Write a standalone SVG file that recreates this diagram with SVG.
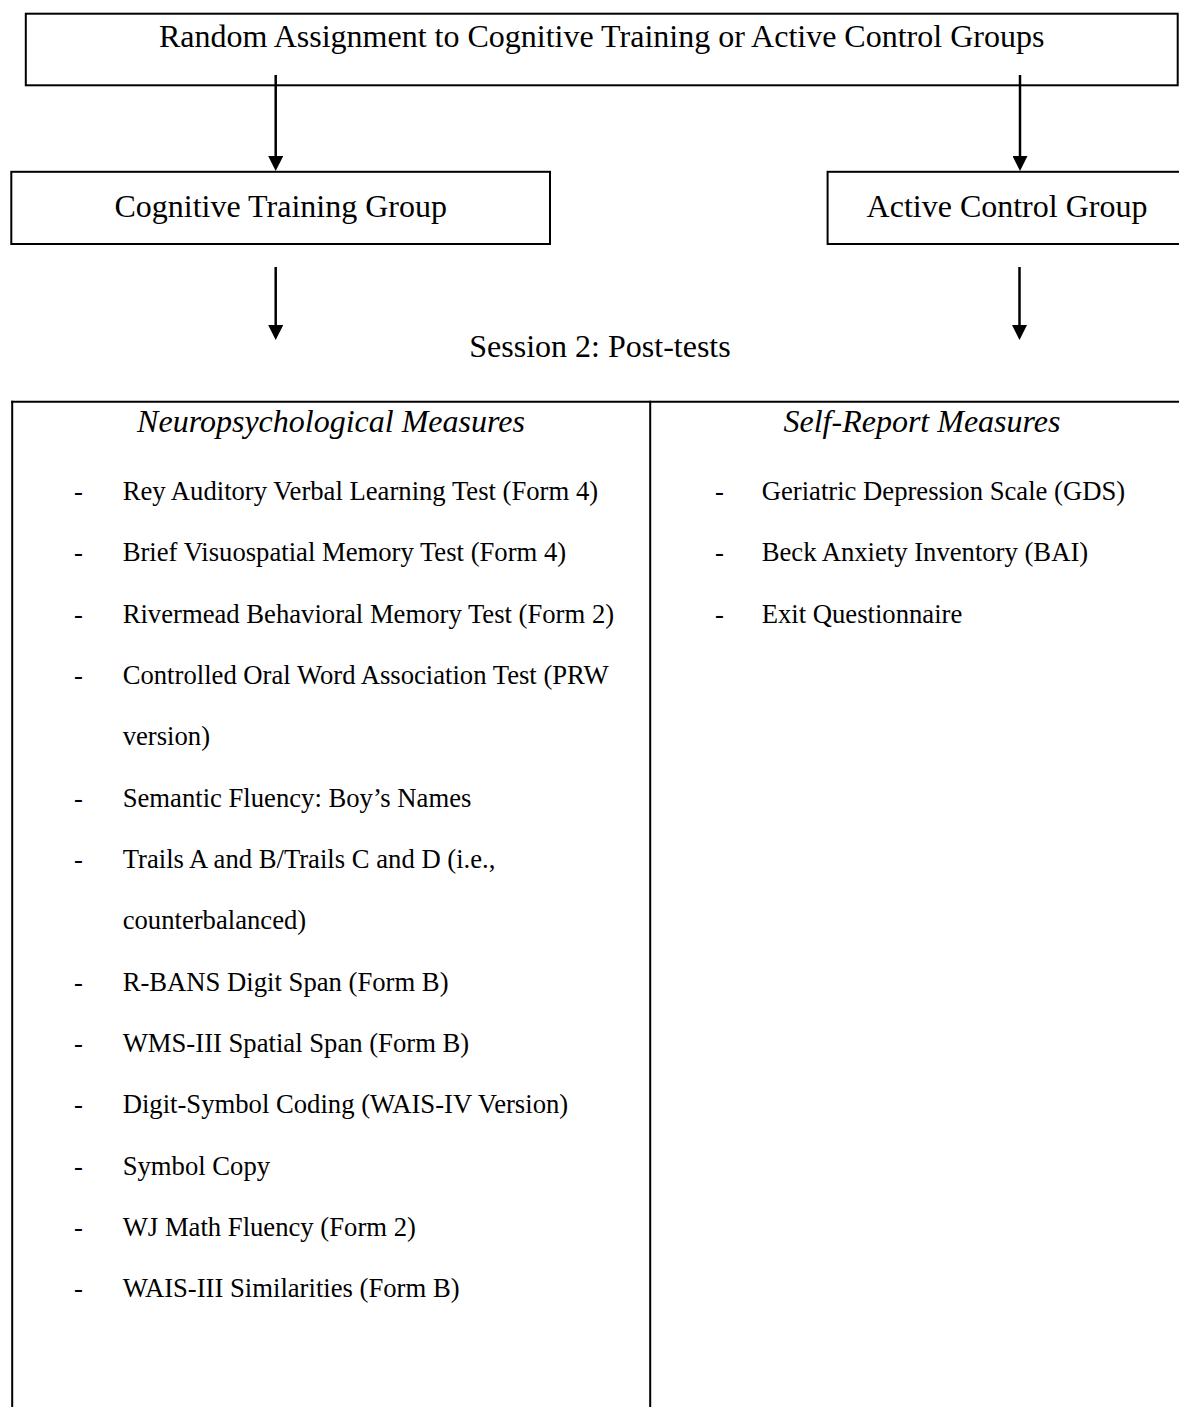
<svg xmlns="http://www.w3.org/2000/svg" width="1179" height="1407" viewBox="0 0 1179 1407">
<style>
.box{fill:#fff;stroke:#000;stroke-width:2}
.ln{stroke:#000;stroke-width:2;fill:none}
.arr{stroke:#000;stroke-width:2.5;fill:none}
.t{font-family:"Liberation Serif","Times New Roman",serif;font-size:32px;fill:#000}
.h{font-family:"Liberation Serif","Times New Roman",serif;font-size:32px;font-style:italic;fill:#000}
.i{font-family:"Liberation Serif","Times New Roman",serif;font-size:26.67px;fill:#000}
.c{text-anchor:middle}
</style>
<defs>
<marker id="ah" markerUnits="userSpaceOnUse" markerWidth="15" markerHeight="15" refX="4" refY="7.5" orient="auto">
<path d="M0,0 L15,7.5 L0,15 z" fill="#000"/>
</marker>
</defs>
<rect width="1179" height="1407" fill="#fff"/>
<g id="random">
<rect class="box" x="25.8" y="13.7" width="1151.9" height="71.6"/>
<text class="t c" x="601.7" y="47">Random Assignment to Cognitive Training or Active Control Groups</text>
</g>
<g id="cognitive">
<rect class="box" x="11.3" y="171.8" width="538.7" height="72.2"/>
<text class="t c" x="280.7" y="217">Cognitive Training Group</text>
</g>
<g id="active">
<rect class="box" x="827.6" y="171.8" width="360" height="72.2"/>
<text class="t c" x="1007" y="217">Active Control Group</text>
</g>
<g id="connectors">
<line class="arr" x1="275.7" y1="75" x2="275.7" y2="160" marker-end="url(#ah)"/>
<line class="arr" x1="1020" y1="75" x2="1020" y2="160" marker-end="url(#ah)"/>
<line class="arr" x1="275.7" y1="267" x2="275.7" y2="329" marker-end="url(#ah)"/>
<line class="arr" x1="1019.5" y1="267" x2="1019.5" y2="329" marker-end="url(#ah)"/>
</g>
<g id="session">
<text class="t c" x="600" y="357">Session 2: Post-tests</text>
</g>
<g id="table">
<line class="ln" x1="11.2" y1="401.8" x2="1179" y2="401.8"/>
<line class="ln" x1="12.2" y1="400.8" x2="12.2" y2="1407"/>
<line class="ln" x1="650.2" y1="400.8" x2="650.2" y2="1407"/>
</g>
<g id="neuro">
<text class="h c" x="331" y="432">Neuropsychological Measures</text>
<g class="i">
<text x="74" y="500">-</text><text x="122.7" y="500">Rey Auditory Verbal Learning Test (Form 4)</text>
<text x="74" y="561.3">-</text><text x="122.7" y="561.3">Brief Visuospatial Memory Test (Form 4)</text>
<text x="74" y="622.7">-</text><text x="122.7" y="622.7">Rivermead Behavioral Memory Test (Form 2)</text>
<text x="74" y="684">-</text><text x="122.7" y="684">Controlled Oral Word Association Test (PRW</text>
<text x="122.7" y="745.3">version)</text>
<text x="74" y="806.7">-</text><text x="122.7" y="806.7">Semantic Fluency: Boy’s Names</text>
<text x="74" y="868">-</text><text x="122.7" y="868">Trails A and B/Trails C and D (i.e.,</text>
<text x="122.7" y="929.3">counterbalanced)</text>
<text x="74" y="990.7">-</text><text x="122.7" y="990.7">R-BANS Digit Span (Form B)</text>
<text x="74" y="1052">-</text><text x="122.7" y="1052">WMS-III Spatial Span (Form B)</text>
<text x="74" y="1113.3">-</text><text x="122.7" y="1113.3">Digit-Symbol Coding (WAIS-IV Version)</text>
<text x="74" y="1174.7">-</text><text x="122.7" y="1174.7">Symbol Copy</text>
<text x="74" y="1236">-</text><text x="122.7" y="1236">WJ Math Fluency (Form 2)</text>
<text x="74" y="1297.3">-</text><text x="122.7" y="1297.3">WAIS-III Similarities (Form B)</text>
</g>
</g>
<g id="selfreport">
<text class="h c" x="922" y="432">Self-Report Measures</text>
<g class="i">
<text x="715" y="500">-</text><text x="761.7" y="500">Geriatric Depression Scale (GDS)</text>
<text x="715" y="561.3">-</text><text x="761.7" y="561.3">Beck Anxiety Inventory (BAI)</text>
<text x="715" y="622.7">-</text><text x="761.7" y="622.7">Exit Questionnaire</text>
</g>
</g>
</svg>
